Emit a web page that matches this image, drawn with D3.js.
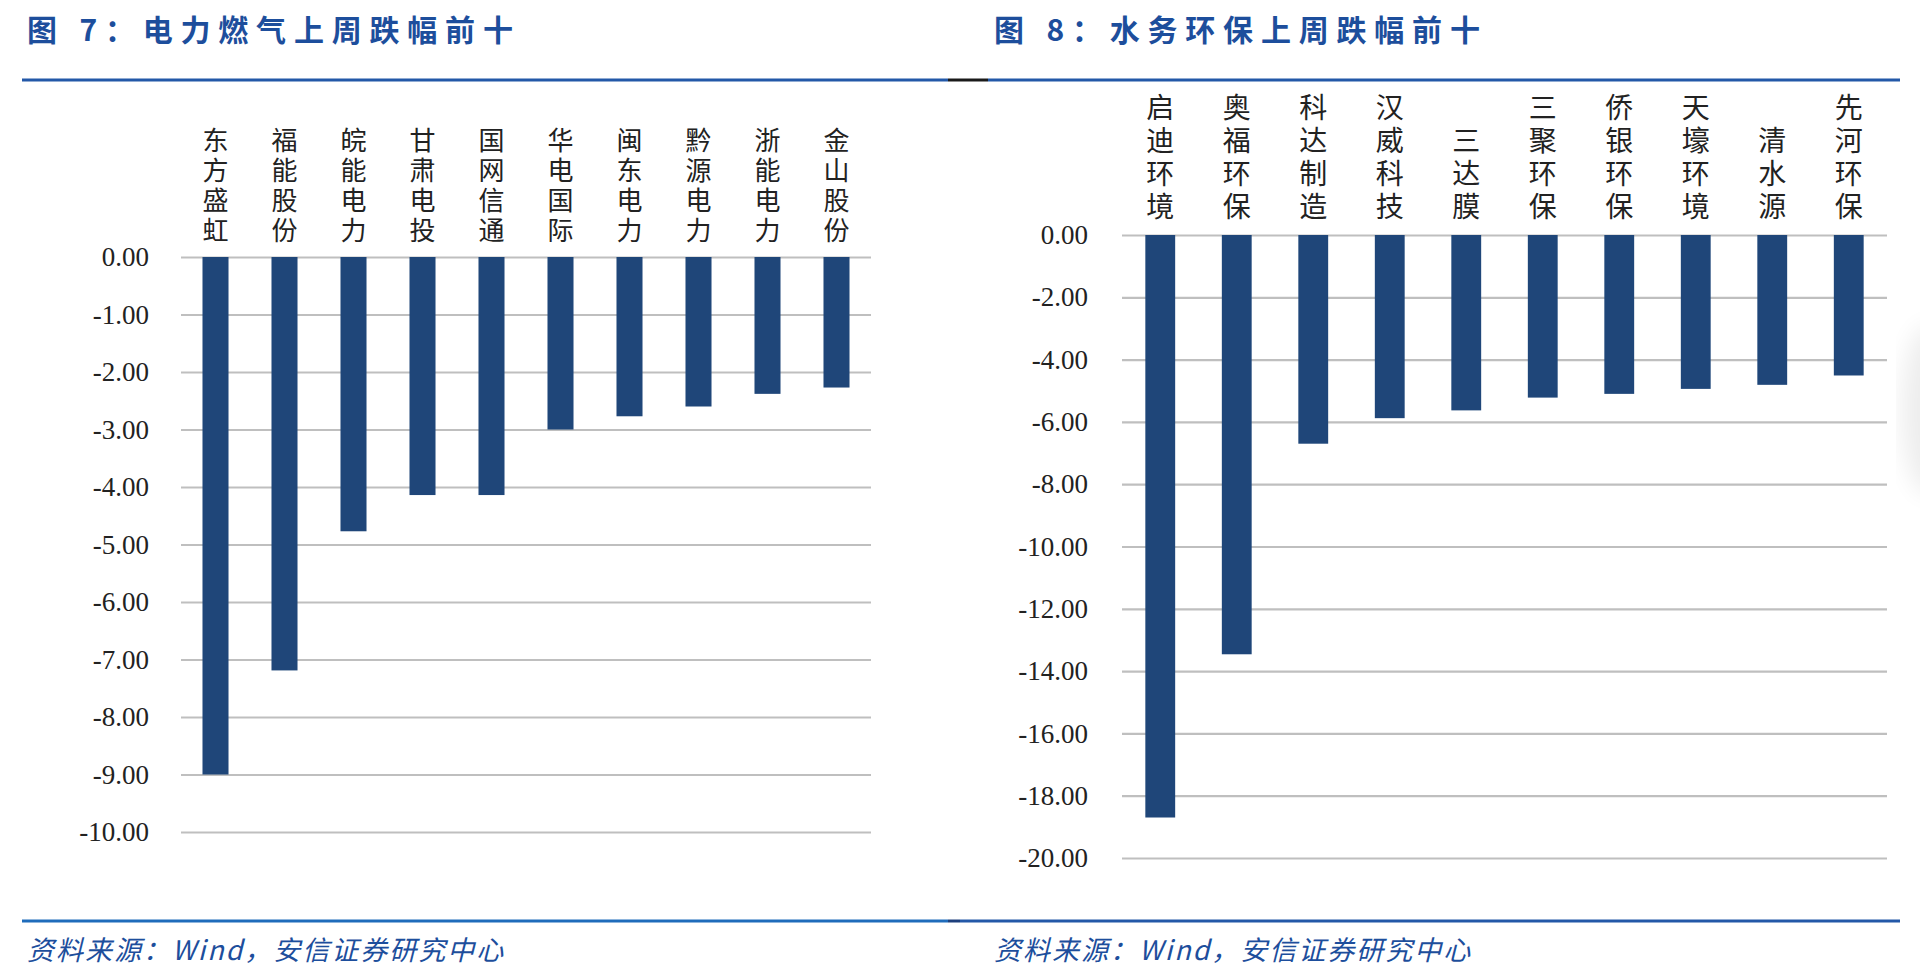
<!DOCTYPE html>
<html>
<head>
<meta charset="utf-8">
<script src="https://cdn.jsdelivr.net/npm/d3@7"></script>
<style>
  body { margin: 0; background: #fff; }
  svg { display: block; }
</style>
</head>
<body>
<div class="chart"></div>
<script>
// 图7 电力燃气上周跌幅前十
const powerNames = ["东方盛虹", "福能股份", "皖能电力", "甘肃电投", "国网信通", "华电国际", "闽东电力", "黔源电力", "浙能电力", "金山股份"];
const powerValues = [-9.00, -7.19, -4.77, -4.14, -4.14, -3.00, -2.77, -2.60, -2.38, -2.27];
const powerTicks = [0, -1, -2, -3, -4, -5, -6, -7, -8, -9, -10];

// 图8 水务环保上周跌幅前十
const waterNames = ["启迪环境", "奥福环保", "科达制造", "汉威科技", "三达膜", "三聚环保", "侨银环保", "天壕环境", "清水源", "先河环保"];
const waterValues = [-18.70, -13.46, -6.70, -5.88, -5.63, -5.22, -5.10, -4.94, -4.81, -4.51];
const waterTicks = [0, -2, -4, -6, -8, -10, -12, -14, -16, -18, -20];

const titles = ["图 7：电力燃气上周跌幅前十", "图 8：水务环保上周跌幅前十"];
const source = "资料来源：Wind，安信证券研究中心";

const w = 1920, h = 976;
const barColor = "#1f4679";
const titleColor = "#1d4e9c";

const svg = d3.select(".chart")
  .append("svg")
  .attr("width", w)
  .attr("height", h);

svg.append("rect").attr("width", w).attr("height", h).attr("fill", "#fff");

// faint shadow on the right edge
const defs = svg.append("defs");
defs.append("filter").attr("id", "blur")
  .append("feGaussianBlur").attr("stdDeviation", 12);
svg.append("ellipse")
  .attr("cx", 1930).attr("cy", 410).attr("rx", 28).attr("ry", 85)
  .attr("fill", "#000").attr("opacity", 0.07)
  .attr("filter", "url(#blur)");

function drawPanel(opt) {
  const g = svg.append("g");

  g.append("text")
    .attr("x", opt.titleX)
    .attr("y", 28)
    .attr("dominant-baseline", "central")
    .attr("font-family", "'Noto Sans CJK SC', sans-serif")
    .attr("font-weight", "bold")
    .attr("font-size", 30)
    .attr("letter-spacing", 7.8)
    .attr("fill", titleColor)
    .text(opt.title);

  g.append("text")
    .attr("x", opt.titleX)
    .attr("y", 948)
    .attr("dominant-baseline", "central")
    .attr("font-family", "'Noto Sans CJK SC', sans-serif")
    .attr("font-style", "italic")
    .attr("font-size", 27)
    .attr("letter-spacing", 2)
    .attr("fill", titleColor)
    .text(source);

  const xScale = d3.scaleBand()
    .domain(opt.names)
    .range([opt.left, opt.right])
    .paddingInner(opt.pad)
    .paddingOuter(opt.pad / 2);

  const yScale = d3.scaleLinear()
    .domain([d3.min(opt.ticks), 0])
    .range([opt.bottom, opt.top]);

  const yAxis = d3.axisLeft(yScale)
    .tickValues(opt.ticks)
    .tickSize(-(opt.right - opt.left))
    .tickPadding(opt.tickPad)
    .tickFormat(d => d.toFixed(2));

  const ax = g.append("g")
    .attr("transform", `translate(${opt.left},0)`)
    .call(yAxis);
  ax.select(".domain").remove();
  ax.selectAll(".tick line")
    .attr("stroke", "#bfbfbf")
    .attr("stroke-width", 2.2);
  ax.selectAll(".tick text")
    .attr("font-family", "'Liberation Serif', serif")
    .attr("font-size", 27)
    .attr("fill", "#222");

  g.selectAll(".bar")
    .data(opt.values)
    .enter()
    .append("rect")
    .attr("class", "bar")
    .attr("x", (d, i) => xScale(opt.names[i]))
    .attr("y", yScale(0))
    .attr("width", xScale.bandwidth())
    .attr("height", d => yScale(d) - yScale(0))
    .attr("fill", barColor);

  // vertical category labels, one character per line, bottom aligned
  const lab = g.selectAll(".cat")
    .data(opt.names)
    .enter()
    .append("text")
    .attr("class", "cat")
    .attr("font-family", "'Noto Sans CJK SC', sans-serif")
    .attr("font-size", opt.labelSize)
    .attr("fill", "#222")
    .attr("text-anchor", "middle");
  lab.each(function(name) {
    const chars = Array.from(name);
    const cx = xScale(name) + xScale.bandwidth() / 2;
    d3.select(this).selectAll("tspan")
      .data(chars)
      .enter()
      .append("tspan")
      .attr("x", cx)
      .attr("y", (c, i) => opt.labelBottom - (chars.length - 1 - i) * opt.labelPitch)
      .attr("dominant-baseline", "central")
      .text(c => c);
  });
}

drawPanel({
  title: titles[0], titleX: 27,
  names: powerNames, values: powerValues, ticks: powerTicks,
  left: 181, right: 871, top: 257, bottom: 832, pad: 0.623, tickPad: 32,
  labelSize: 26, labelBottom: 228, labelPitch: 30
});

drawPanel({
  title: titles[1], titleX: 994,
  names: waterNames, values: waterValues, ticks: waterTicks,
  left: 1122, right: 1887, top: 235, bottom: 858, pad: 0.61, tickPad: 34,
  labelSize: 28, labelBottom: 205, labelPitch: 33
});

// header and footer rules
const rules = [
  { x1: 22, x2: 948, y: 80, c: "#2358a8" },
  { x1: 948, x2: 988, y: 80, c: "#1a1a1a" },
  { x1: 988, x2: 1900, y: 80, c: "#2358a8" },
  { x1: 22, x2: 948, y: 921, c: "#1f6cbb" },
  { x1: 948, x2: 960, y: 921, c: "#1d3f7c" },
  { x1: 960, x2: 1900, y: 921, c: "#2358a8" }
];
svg.selectAll(".rule")
  .data(rules)
  .enter()
  .append("line")
  .attr("class", "rule")
  .attr("x1", d => d.x1).attr("x2", d => d.x2)
  .attr("y1", d => d.y).attr("y2", d => d.y)
  .attr("stroke", d => d.c)
  .attr("stroke-width", 3);
</script>
</body>
</html>
